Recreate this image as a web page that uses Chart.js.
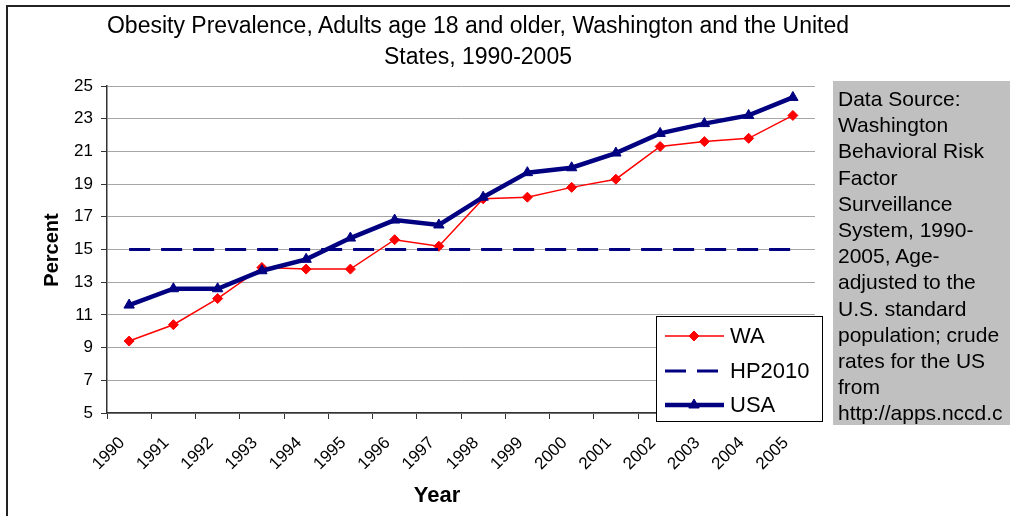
<!DOCTYPE html>
<html>
<head>
<meta charset="utf-8">
<title>Obesity Prevalence, Washington and the United States</title>
<script src="https://cdn.jsdelivr.net/npm/chart.js@4/dist/chart.umd.min.js"></script>
<style>
  body { margin: 0; background: #fff; }
  #wrap { position: relative; width: 1010px; height: 516px; overflow: hidden;
          font-family: "Liberation Sans", Arial, sans-serif; color: #000; }
  #myChart { position: absolute; left: 0; top: 0; }
  #frame { position: absolute; left: 6px; top: 5px; width: 1100px; height: 600px;
           border-left: 2px solid #222; border-top: 2px solid #222; }
  #title { position: absolute; left: 60px; width: 836px; top: 10px;
           text-align: center; font-size: 23px; line-height: 31px; }
  #note { position: absolute; left: 833px; top: 81px; width: 172px; height: 339px;
          background: #c0c0c0; padding: 5px 0 0 5px; font-size: 21px; line-height: 26.2px;
          white-space: nowrap; overflow: hidden; }
</style>
</head>
<body>
<div id="wrap">
  <canvas id="myChart" width="1010" height="516"></canvas>
  <div id="frame"></div>
  <div id="title">Obesity Prevalence, Adults age 18 and older, Washington and the United<br>States, 1990-2005</div>
  <div id="note">Data Source:<br>Washington<br>Behavioral Risk<br>Factor<br>Surveillance<br>System, 1990-<br>2005, Age-<br>adjusted to the<br>U.S. standard<br>population; crude<br>rates for the US<br>from<br>http://apps.nccd.c</div>
</div>
<script>
// the data
var years = ["1990", "1991", "1992", "1993", "1994", "1995", "1996", "1997",
             "1998", "1999", "2000", "2001", "2002", "2003", "2004", "2005"];
var waValues = [9.4, 10.4, 12.0, 13.9, 13.8, 13.8, 15.6, 15.2,
                18.1, 18.2, 18.8, 19.3, 21.3, 21.6, 21.8, 23.2];
var hp2010Values = [15, 15, 15, 15, 15, 15, 15, 15,
                    15, 15, 15, 15, 15, 15, 15, 15];
var usaValues = [11.6, 12.6, 12.6, 13.7, 14.4, 15.7, 16.8, 16.5,
                 18.2, 19.7, 20.0, 20.9, 22.1, 22.7, 23.2, 24.3];
var yTicks = [5, 7, 9, 11, 13, 15, 17, 19, 21, 23, 25];

var fontName = "'Liberation Sans', Arial, sans-serif";

// legend box + axis titles, drawn after the chart
var decor = {
  id: 'decor',
  afterDraw: function(chart) {
    var c = chart.ctx;
    c.save();

    // axis titles
    c.fillStyle = '#000';
    c.textAlign = 'center';
    c.textBaseline = 'middle';
    c.font = 'bold 22px ' + fontName;
    c.fillText('Year', 437, 496);
    c.translate(52, 250);
    c.rotate(-Math.PI / 2);
    c.font = 'bold 20px ' + fontName;
    c.fillText('Percent', 0, 0);
    c.setTransform(1, 0, 0, 1, 0, 0);

    // legend
    var bx = 656, by = 316, bw = 166, bh = 105;
    c.fillStyle = '#fff';
    c.fillRect(bx, by, bw, bh);
    c.strokeStyle = '#000';
    c.lineWidth = 1;
    c.strokeRect(bx + 0.5, by + 0.5, bw, bh);

    var rows = [20, 55, 89];
    chart.data.datasets.forEach(function(ds, i) {
      var y = by + rows[i];
      c.save();
      c.strokeStyle = ds.borderColor;
      c.lineWidth = ds.borderWidth;
      c.setLineDash(ds.borderDash || []);
      c.beginPath();
      c.moveTo(bx + 9, y);
      c.lineTo(bx + 68, y);
      c.stroke();
      c.restore();
      if (ds.pointRadius > 0) {
        c.fillStyle = ds.pointBackgroundColor;
        c.strokeStyle = ds.pointBorderColor;
        c.lineWidth = ds.pointBorderWidth;
        Chart.helpers.drawPoint(c, {
          pointStyle: ds.pointStyle, radius: ds.pointRadius,
          rotation: 0, borderWidth: ds.pointBorderWidth
        }, bx + 38, y);
      }
      c.fillStyle = '#000';
      c.textAlign = 'left';
      c.textBaseline = 'middle';
      c.font = '22px ' + fontName;
      c.fillText(ds.label, bx + 74, y + 1);
    });
    c.restore();
  }
};

var ctx = document.getElementById("myChart");
var myChart = new Chart(ctx, {
  type: 'line',
  data: {
    labels: years,
    datasets: [{
      label: 'WA',
      data: waValues,
      borderColor: '#ff0000',
      borderWidth: 1.5,
      pointStyle: 'rectRot',
      pointRadius: 5,
      pointBackgroundColor: '#ff0000',
      pointBorderColor: '#ff0000',
      pointBorderWidth: 1,
      order: 2
    }, {
      label: 'HP2010',
      data: hp2010Values,
      borderColor: '#000080',
      borderWidth: 3,
      borderDash: [21, 11],
      pointRadius: 0,
      order: 1
    }, {
      label: 'USA',
      data: usaValues,
      borderColor: '#000080',
      borderWidth: 4.5,
      pointStyle: 'triangle',
      pointRadius: 6,
      pointBackgroundColor: '#000080',
      pointBorderColor: '#000080',
      pointBorderWidth: 1,
      order: 0
    }]
  },
  options: {
    responsive: false,
    animation: false,
    devicePixelRatio: 1,
    layout: { padding: { left: 8, top: 86, right: 195, bottom: 0 } },
    plugins: {
      legend: { display: false },
      title: { display: false },
      tooltip: { enabled: false }
    },
    scales: {
      x: {
        offset: true,
        grid: { display: true, drawOnChartArea: false, offset: true,
                tickLength: 6, color: '#333' },
        border: { color: '#333', width: 1.5 },
        ticks: { autoSkip: false, minRotation: 45, maxRotation: 45, padding: 14,
                 labelOffset: -7,
                 color: '#000', font: { family: fontName, size: 17 } },
        afterFit: function(scale) { scale.height = 103; }
      },
      y: {
        min: 5,
        max: 25,
        grid: { color: '#a6a6a6', tickColor: '#333', tickLength: 6 },
        border: { color: '#333', width: 1.5 },
        ticks: { padding: 8, color: '#000', font: { family: fontName, size: 17 } },
        afterBuildTicks: function(scale) {
          scale.ticks = yTicks.map(function(v) { return { value: v }; });
        },
        afterFit: function(scale) { scale.width = 99; }
      }
    }
  },
  plugins: [decor]
});
</script>
</body>
</html>
